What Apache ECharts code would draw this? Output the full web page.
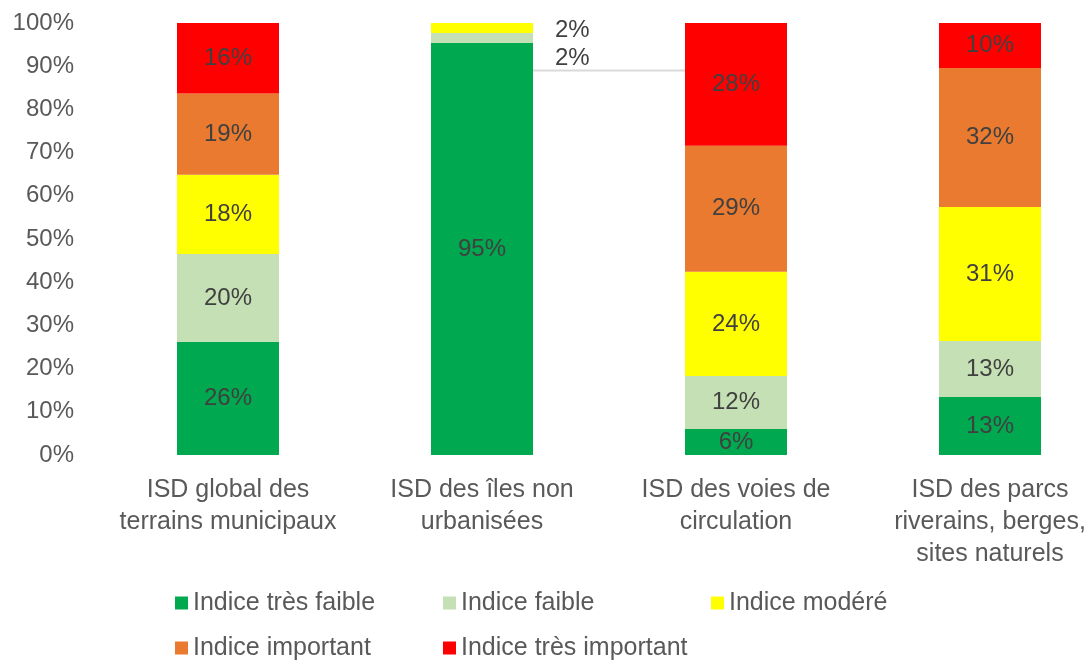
<!DOCTYPE html>
<html>
<head>
<meta charset="utf-8">
<script src="https://cdn.jsdelivr.net/npm/echarts@6/dist/echarts.min.js"></script>
<style>
  html, body { margin: 0; padding: 0; background: #fff; overflow: hidden; }
  /* the plot runs a little past the right edge of the window, as in the source */
  #chart { width: 1117px; height: 660px; }
</style>
</head>
<body>
<div id="chart"></div>
<script>
const categories = [
  "ISD global des\nterrains municipaux",
  "ISD des îles non\nurbanisées",
  "ISD des voies de\ncirculation",
  "ISD des parcs\nriverains, berges,\nsites naturels"
];
const seriesNames = ["Indice très faible", "Indice faible", "Indice modéré", "Indice important", "Indice très important"];
const tresFaible = [26.2, 95.4, 6.0, 13.4];
const faible = [20.3, 2.3, 12.3, 13.0];
const modere = [18.4, 2.3, 24.1, 31.0];
const important = [18.8, 0, 29.2, 32.2];
const tresImportant = [16.3, 0, 28.4, 10.4];
const yTicks = [0, 10, 20, 30, 40, 50, 60, 70, 80, 90, 100];

const colors = ["#00a84f", "#c5e0b4", "#ffff00", "#e97a2f", "#ff0000"];
const font = "'Liberation Sans', Arial, sans-serif";
const barWidth = 102;

// labels of the thin segments of the second bar sit to the right
const outsideLabels = {
  1: { 1: { position: "right", distance: 22, offset: [0, 20] } },
  2: { 1: { position: "right", distance: 22, offset: [0, 2] } }
};

function seriesOf(name, values, index) {
  return {
    name,
    type: "bar",
    stack: "total",
    barWidth,
    itemStyle: { color: colors[index] },
    label: {
      show: true,
      position: "inside",
      color: "#404040",
      fontFamily: font,
      fontSize: 24,
      formatter: (p) => (p.value > 0 ? Math.round(p.value) + "%" : "")
    },
    data: values.map((v, i) => {
      const custom = outsideLabels[index] && outsideLabels[index][i];
      return custom ? { value: v, label: custom } : v;
    })
  };
}

const chart = echarts.init(document.getElementById("chart"));
chart.setOption({
  animation: false,
  color: colors,
  grid: { left: 101, right: 0, top: 23, bottom: 205, containLabel: false },
  legend: {
    data: seriesNames,
    left: 170,
    top: 583,
    width: 840,
    itemWidth: 13,
    itemHeight: 13,
    itemGap: 15,
    icon: "rect",
    textStyle: { fontFamily: font, fontSize: 25, color: "#595959", width: 235, lineHeight: 30 }
  },
  xAxis: {
    type: "category",
    data: categories,
    axisLine: { show: false },
    axisTick: { show: false },
    axisLabel: { color: "#595959", fontFamily: font, fontSize: 25, lineHeight: 32, margin: 19, interval: 0 }
  },
  yAxis: {
    type: "value",
    min: yTicks[0],
    max: yTicks[yTicks.length - 1],
    interval: 10,
    splitLine: { show: false },
    axisLine: { show: false },
    axisTick: { show: false },
    axisLabel: { color: "#595959", fontFamily: font, fontSize: 24, margin: 27, formatter: "{value}%" }
  },
  series: [
    seriesOf(seriesNames[0], tresFaible, 0),
    seriesOf(seriesNames[1], faible, 1),
    seriesOf(seriesNames[2], modere, 2),
    seriesOf(seriesNames[3], important, 3),
    seriesOf(seriesNames[4], tresImportant, 4)
  ]
});

// thin grey leader line between the second and third bars
const leaderValue = 89;
const from = chart.convertToPixel({ gridIndex: 0 }, [1, leaderValue]);
const to = chart.convertToPixel({ gridIndex: 0 }, [2, leaderValue]);
chart.setOption({
  graphic: [{
    type: "line",
    shape: { x1: from[0] + barWidth / 2, y1: from[1], x2: to[0] - barWidth / 2, y2: to[1] },
    style: { stroke: "#d9d9d9", lineWidth: 2 },
    z: 10
  }]
});
</script>
</body>
</html>
